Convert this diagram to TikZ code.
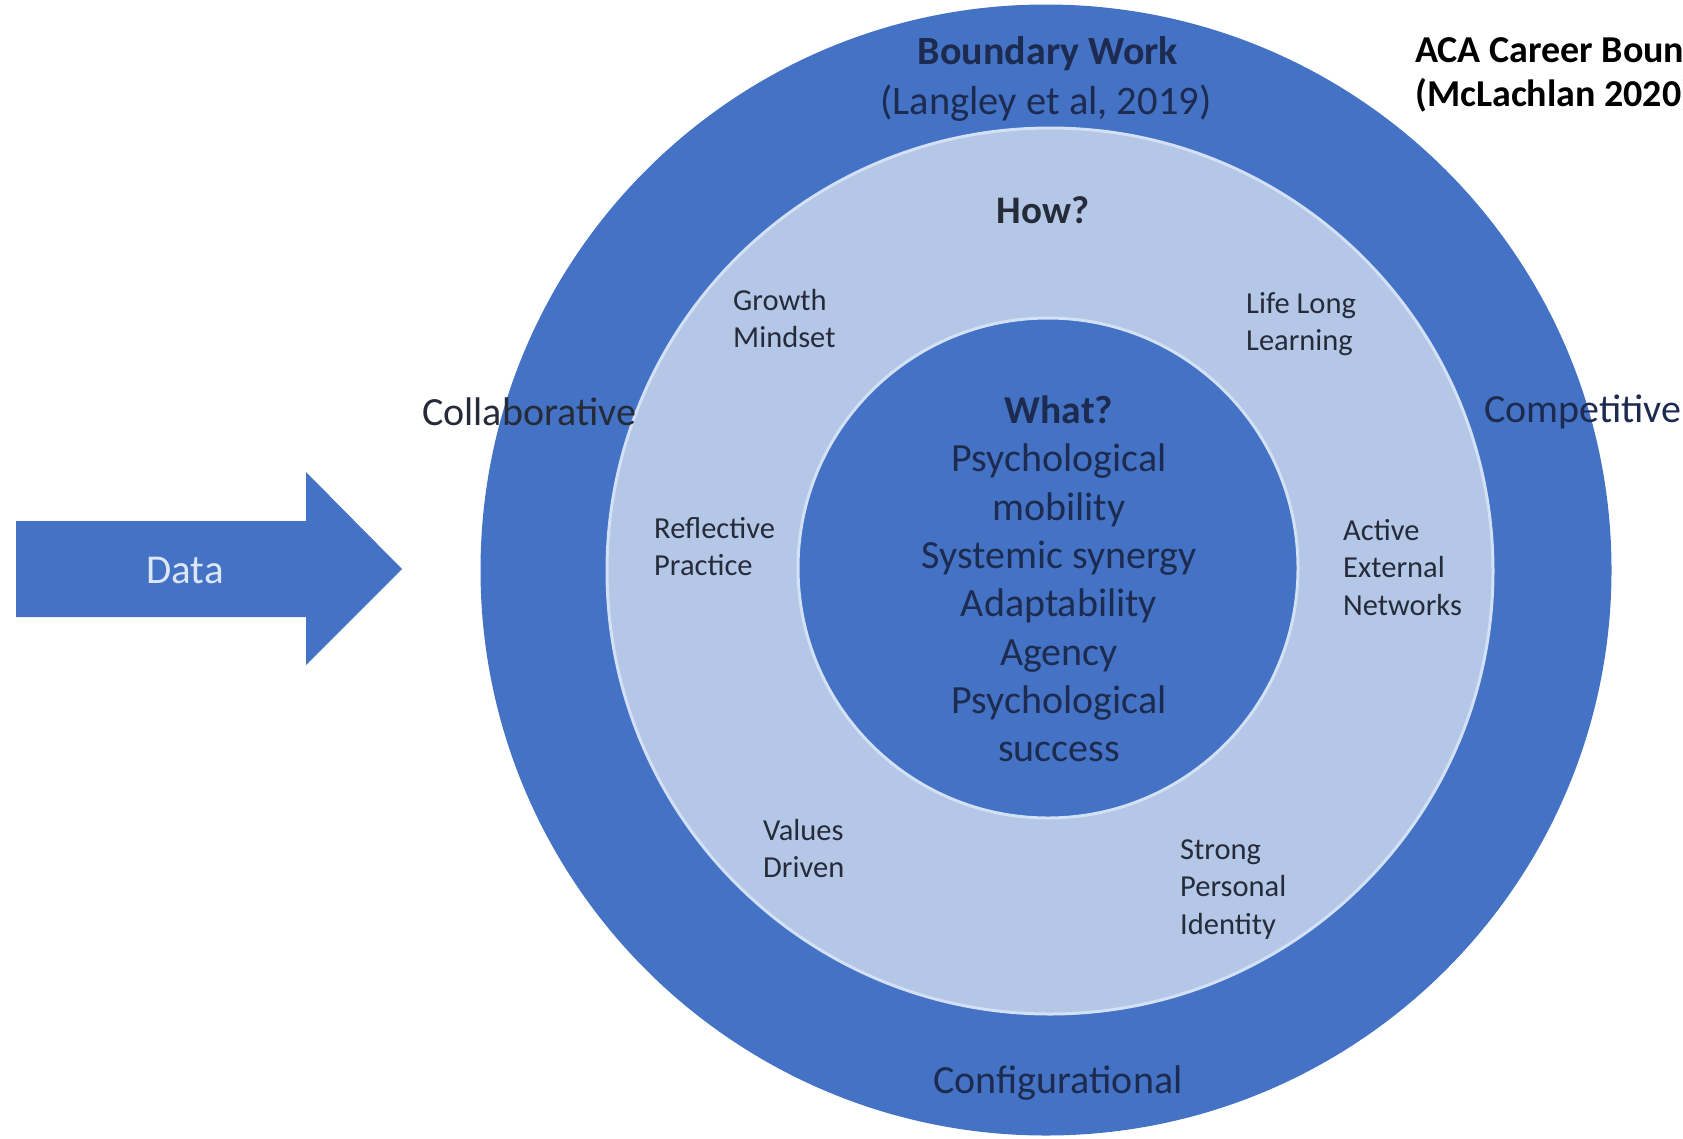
\documentclass[tikz,border=0pt]{standalone}
\usepackage{fontspec}
\setmainfont{Carlito}
\definecolor{ringblue}{HTML}{4472C4}
\definecolor{lightblue}{HTML}{B4C7E7}
\definecolor{edgeblue}{HTML}{D3E0F5}
\definecolor{navy}{HTML}{1C2B4F}
\definecolor{darktxt}{HTML}{262B3A}
\definecolor{datatxt}{HTML}{DCE6F7}
\tikzset{
  disc/.style={circle, inner sep=0pt, fill=ringblue},
  ringtext/.style={font=\fontsize{40}{49}\selectfont, text=navy, align=center, inner sep=0pt},
  smalllabel/.style={font=\fontsize{30.5}{37.5}\selectfont, text=darktxt, align=left, anchor=north west, inner sep=0pt},
  coretext/.style={font=\fontsize{40}{48.3}\selectfont, text=navy, align=center, inner sep=0pt},
  titletext/.style={font=\fontsize{38}{43}\bfseries\selectfont, text=black, anchor=west, inner sep=0pt},
}
\begin{document}
\begin{tikzpicture}[x=1pt,y=-1pt]
\useasboundingbox (0,0) rectangle (1683,1138);
\clip (0,0) rectangle (1683,1138);
% circles
\node[disc, minimum size=1131pt] (outer) at (1046,570) {};
\node[disc, fill=lightblue, draw=edgeblue, line width=3pt, minimum size=886pt] (middle) at (1050,571) {};
\node[disc, draw=edgeblue, line width=3pt, minimum size=500pt] (inner) at (1048,568) {};
% arrow
\fill[ringblue] (16,521) -- (306,521) -- (306,472) -- (402,569) -- (306,665) -- (306,617) -- (16,617) -- cycle;
\node[font=\fontsize{41}{46}\selectfont, text=datatxt, inner sep=0pt] (data) at (185,570) {Data};
% outer ring texts
\node[ringtext, font=\fontsize{40}{49}\bfseries\selectfont] (bw) at (1048,54) {Boundary Work};
\node[ringtext, font=\fontsize{40.5}{49}\selectfont] (lang) at (1046,103) {(Langley et al, 2019)};
\node[ringtext, anchor=west, text=darktxt] (collab) at (422,412) {Collaborative};
\node[ringtext, anchor=west] (compet) at (1484,412) {Competitive};
\node[ringtext] (config) at (1058,1083) {Configurational};
% title (cut off at the right edge, as in the reference)
\node[titletext] (title1) at (1415,52) {ACA Career Boundary};
\node[titletext] (title2) at (1415,95) {(McLachlan 2020)};
% middle ring
\node[ringtext, font=\fontsize{39}{44}\bfseries\selectfont, text=darktxt] (how) at (1043,210) {How?};
\node[smalllabel] (growth) at (733,289) {Growth\\Mindset};
\node[smalllabel] (life) at (1246,292) {Life Long\\Learning};
\node[smalllabel] (refl) at (654,517) {Reflective\\Practice};
\node[smalllabel] (active) at (1343,519) {Active\\External\\Networks};
\node[smalllabel] (values) at (763,819) {Values\\Driven};
\node[smalllabel] (strong) at (1180,839) {Strong\\Personal\\Identity};
% inner
\node[coretext, font=\fontsize{39.5}{44}\bfseries\selectfont] (what) at (1059,410) {What?};
\node[coretext, anchor=north] (core) at (1059,444) {Psychological\\mobility\\Systemic synergy\\Adaptability\\Agency\\Psychological\\success};
\end{tikzpicture}
\end{document}
